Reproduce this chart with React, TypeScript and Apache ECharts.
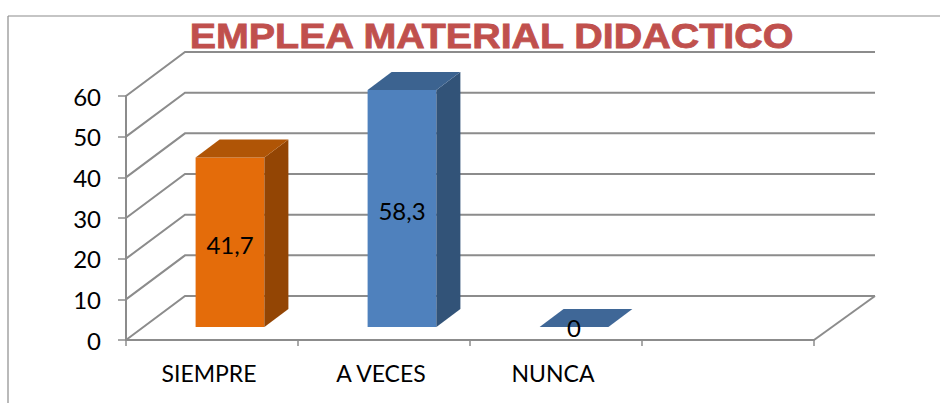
import React, { useEffect, useRef } from "react";
import * as echarts from "echarts";

const titleText = "EMPLEA MATERIAL DIDACTICO";
const categories = ["SIEMPRE", "A VECES", "NUNCA", ""];
const values = [41.7, 58.3, 0];
const yTicks = [0, 10, 20, 30, 40, 50, 60];
const frontColors = ["#E46C0A", "#4F81BD", "#3F6797"];
const topColors = ["#B05506", "#3C6390", "#3F6797"];
const sideColors = ["#934504", "#325378", "#325378"];

const FONT = "Lato";
const GRID = "#8C8C8C";
const WALL = [59, -44];
const BAR_DEPTH = [24, -18];
const BASE = [18, -13];

export default function App() {
  const ref = useRef<HTMLDivElement>(null);
  useEffect(() => {
    const chart = echarts.init(ref.current!, null, { renderer: "svg" });
    chart.setOption({
      animation: false,
      backgroundColor: "#fff",
      graphic: [
        { type: "line", shape: { x1: 8, y1: 16, x2: 940, y2: 16 }, style: { stroke: "#8C8C8C", lineWidth: 1.2 }, silent: true },
        { type: "line", shape: { x1: 8, y1: 16, x2: 8, y2: 403 }, style: { stroke: "#8C8C8C", lineWidth: 1.2 }, silent: true },
        {
          type: "text",
          x: 491.5,
          y: 36,
          scaleX: 1.127,
          z: 5,
          silent: true,
          style: {
            text: titleText,
            x: 0,
            y: 0,
            fill: "#C0504D",
            stroke: "#C0504D",
            lineWidth: 0.8,
            font: "bold 35px 'Liberation Sans'",
            align: "center",
            verticalAlign: "middle",
          },
        },
      ],
      grid: { left: 126, right: 126, top: 96, bottom: 63 },
      xAxis: {
        type: "category",
        data: categories,
        boundaryGap: true,
        axisLine: { lineStyle: { color: GRID, width: 2 } },
        axisTick: { show: true, length: 6, alignWithLabel: false, interval: 0, lineStyle: { color: GRID, width: 1.5 } },
        axisLabel: { color: "#000", fontFamily: FONT, fontSize: 23, margin: 21, interval: 0, padding: [0, 6, 0, 0] },
        splitLine: { show: false },
      },
      yAxis: {
        type: "value",
        min: 0,
        max: 60,
        interval: 10,
        axisLine: { show: true, lineStyle: { color: GRID, width: 2 } },
        axisTick: { show: true, length: 8, lineStyle: { color: GRID, width: 1.5 } },
        axisLabel: { color: "#000", fontFamily: FONT, fontSize: 24, margin: 25 },
        splitLine: { show: false },
      },
      series: [
        {
          type: "custom",
          coordinateSystem: "cartesian2d",
          z: 1,
          silent: true,
          data: yTicks.map((v) => [0, v]),
          renderItem: (_p: any, api: any) => {
            const v = api.value(1);
            const c = api.coord([0, v]);
            const band = api.size([1, 0])[0];
            const left = c[0] - band / 2;
            const right = left + band * categories.length;
            const children: any[] = [
              {
                type: "polyline",
                shape: { points: [[left, c[1]], [left + WALL[0], c[1] + WALL[1]], [right + WALL[0] + 2, c[1] + WALL[1]]] },
                style: { stroke: GRID, lineWidth: 2, fill: "none" },
              },
            ];
            if (v === 0) {
              children.push({
                type: "line",
                shape: { x1: right, y1: c[1], x2: right + WALL[0] + 2, y2: c[1] + WALL[1] },
                style: { stroke: GRID, lineWidth: 2 },
              });
            }
            return { type: "group", children };
          },
        },
        {
          type: "custom",
          coordinateSystem: "cartesian2d",
          z: 2,
          silent: true,
          data: values.map((v, i) => [i, v]),
          renderItem: (p: any, api: any) => {
            const i = api.value(0);
            const v = api.value(1);
            const c0 = api.coord([i, 0]);
            const c1 = api.coord([i, v]);
            const w = api.size([1, 0])[0] * 0.4;
            const l = c0[0] + BASE[0] - w / 2;
            const r = l + w;
            const b = c0[1] + BASE[1];
            const t = c1[1] + BASE[1];
            const [dx, dy] = BAR_DEPTH;
            const children: any[] = [];
            if (v > 0) {
              children.push(
                { type: "rect", shape: { x: l, y: t, width: w, height: b - t }, style: { fill: frontColors[i] } },
                { type: "polygon", shape: { points: [[r, t], [r + dx, t + dy], [r + dx, b + dy], [r, b]] }, style: { fill: sideColors[i] } },
              );
            }
            children.push({
              type: "polygon",
              shape: { points: [[l, t], [l + dx, t + dy], [r + dx, t + dy], [r, t]] },
              style: { fill: topColors[i] },
            });
            children.push({
              type: "text",
              style: {
                text: String(v).replace(".", ","),
                x: (l + r) / 2 + (v > 0 ? 0 : dx / 2 - 12),
                y: (t + b) / 2 + (v > 0 ? 2 : 0),
                fill: "#000",
                font: `24px ${FONT}`,
                align: "center",
                verticalAlign: "middle",
              },
            });
            return { type: "group", children };
          },
        },
      ],
    });
    return () => chart.dispose();
  }, []);
  return <div ref={ref} style={{ position: "fixed", left: 0, top: 0, width: 940, height: 403 }} />;
}
